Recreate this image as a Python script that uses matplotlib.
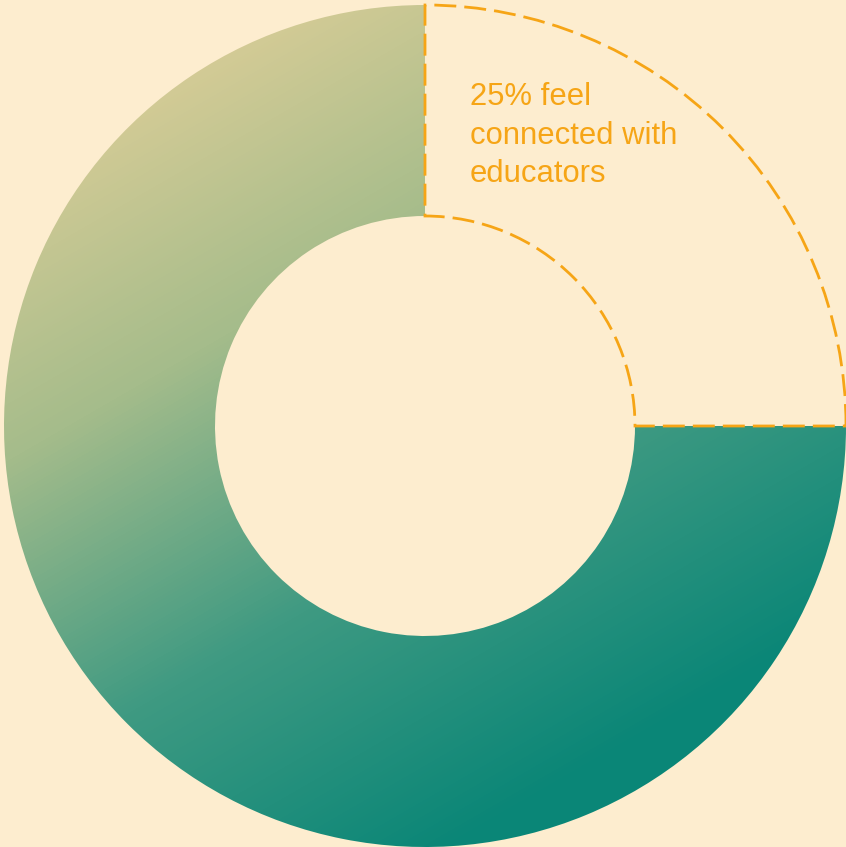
"""Donut chart: share of students who feel connected with educators"""
import matplotlib.pyplot as plt
import numpy as np
from matplotlib.colors import LinearSegmentedColormap

# data
shares = [25, 75]
highlight_label = "25% feel\nconnected with\neducators"

BG = "#FDEDCF"
ORANGE = "#F6A516"
W, H = 846, 847
CX, CY = 425, 426
R_OUT, R_IN = 421, 210

fig = plt.figure(figsize=(W / 100, H / 100), dpi=100, facecolor=BG)
ax = fig.add_axes([0, 0, 1, 1])
ax.set_facecolor(BG)

wedges, _ = ax.pie(
    shares,
    radius=R_OUT,
    center=(0, 0),
    startangle=90,
    counterclock=False,
    wedgeprops=dict(width=R_OUT - R_IN, linewidth=0),
)
ax.set_xlim(-CX, W - CX)
ax.set_ylim(-(H - CY), CY)
ax.set_aspect("equal")
ax.axis("off")

# highlighted slice: dashed outline only
hl = wedges[0]
hl.set_facecolor("none")
hl.set_edgecolor(ORANGE)
hl.set_linewidth(2.0)
hl.set_linestyle((0, (7.9, 2.9)))
hl.set_zorder(3)

# remaining slice: diagonal gradient clipped to the wedge
rest = wedges[1]
rest.set_facecolor("none")
cmap = LinearSegmentedColormap.from_list(
    "tan_teal", ["#DACD97", "#A5BC8B", "#3F9A82", "#0A8677"]
)
py, px = np.mgrid[0:H, 0:W]
proj = px * 0.5 + py * 0.866
grad = np.clip((proj - 120) / (960 - 120), 0, 1)
img = ax.imshow(
    grad,
    cmap=cmap,
    extent=[-CX, W - CX, -(H - CY), CY],
    origin="upper",
    interpolation="bilinear",
    zorder=1,
)
img.set_clip_path(rest)

ax.text(
    470 - CX,
    CY - 82,
    highlight_label,
    color=ORANGE,
    fontsize=22.3,
    family=["Liberation Sans", "DejaVu Sans"],
    ha="left",
    va="top",
    linespacing=1.38,
    zorder=4,
)

fig.savefig("out.png", dpi=100, facecolor=BG)
